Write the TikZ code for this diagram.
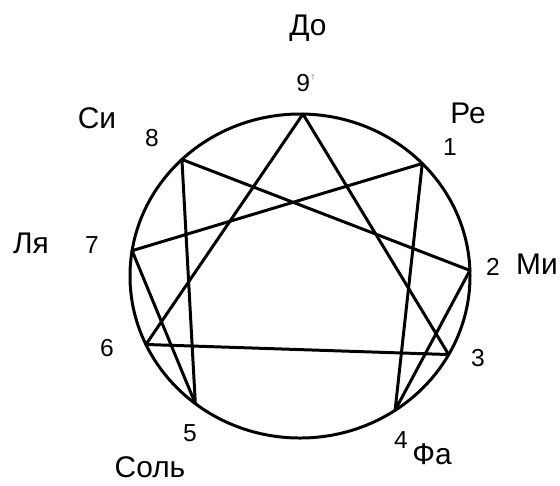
\documentclass[tikz,border=0pt]{standalone}
\usepackage{fontspec}
\setmainfont{Liberation Sans}

\begin{document}
\begin{tikzpicture}[x=0.02cm, y=-0.02cm,
  every node/.style={inner sep=0pt},
  note/.style={font=\fontsize{17}{19}\selectfont},
  num/.style={font=\fontsize{14}{16}\selectfont},
  line/.style={line width=1.7pt, line join=round, line cap=round}]
\useasboundingbox (0,0) rectangle (560,485);

% points on the circle
\coordinate (c) at (300,276);
\foreach \n/\a in {9/-89, 1/-44, 2/-2, 3/29, 4/56, 5/128, 6/155, 7/189, 8/226}
  \coordinate (p\n) at ([shift={(c)}]\a:170 and 162);

\draw[line] (c) ellipse [x radius=170, y radius=162];

% triangle
\draw[line] (p9) -- (p3) -- (p6) -- cycle;
% hexad
\draw[line] (p1) -- (p4) -- (p2) -- (p8) -- (p5) -- (p7) -- cycle;

% numbers
\node[num] (n9) at (306,83) {9\textcolor{gray!50}{'}};
\node[num] (n1) at (450,147) {1};
\node[num] (n2) at (493,267) {2};
\node[num] (n3) at (478,358) {3};
\node[num] (n4) at (401,440) {4};
\node[num] (n5) at (190,433) {5};
\node[num] (n6) at (107,348) {6};
\node[num] (n7) at (92,245) {7};
\node[num] (n8) at (152,138) {8};

% notes
\node[note] (do) at (308,28) {До};
\node[note] (re) at (468,113) {Ре};
\node[note] (mi) at (537,264) {Ми};
\node[note] (fa) at (432,454) {Фа};
\node[note] (sol) at (150,467) {Соль};
\node[note] (lya) at (31,243) {Ля};
\node[note] (si) at (97,118) {Си};

\end{tikzpicture}
\end{document}
